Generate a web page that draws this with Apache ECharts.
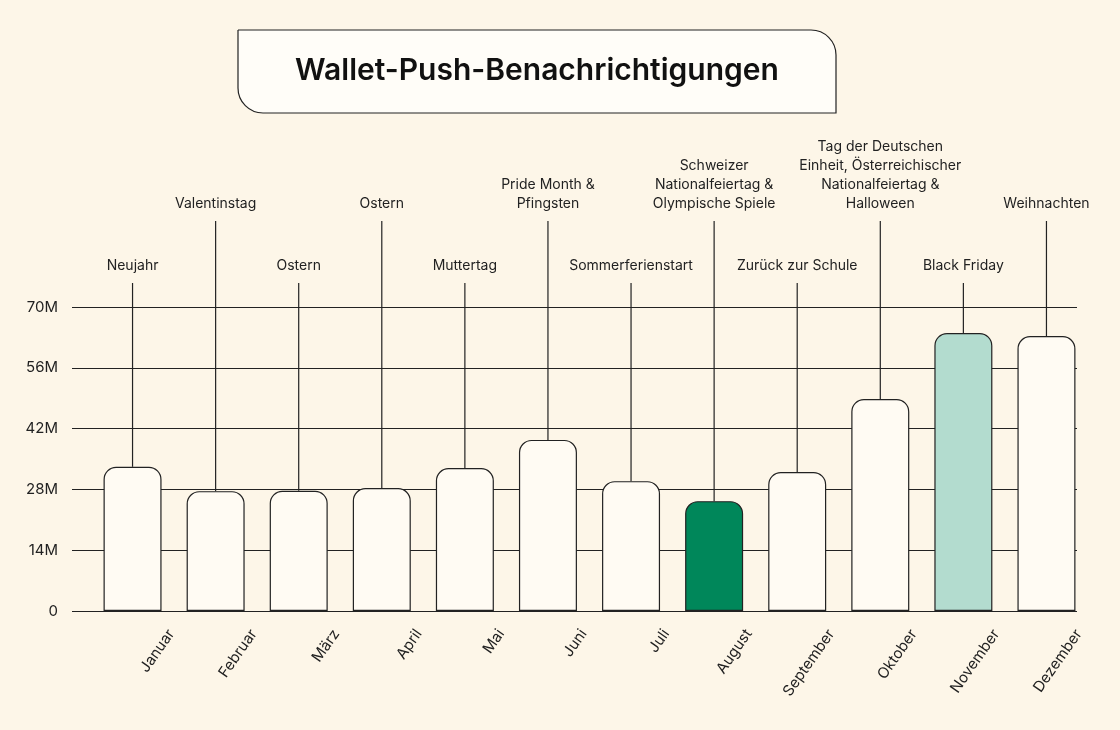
<!DOCTYPE html>
<html><head><meta charset="utf-8">
<script src="https://cdn.jsdelivr.net/npm/echarts@6/dist/echarts.min.js"></script>
<style>html,body{margin:0;background:#fdf6e8}#c{width:1120px;height:730px}</style>
</head><body><div id="c"></div>
<script>
const months=['Januar','Februar','März','April','Mai','Juni','Juli','August','September','Oktober','November','Dezember'];
const values=[33.2,27.6,27.7,28.3,32.9,39.4,29.9,25.3,32.0,48.8,64.0,63.3];
const events=['Neujahr','Valentinstag','Ostern','Ostern','Muttertag','Pride Month &\nPfingsten','Sommerferienstart','Schweizer\nNationalfeiertag &\nOlympische Spiele','Zurück zur Schule','Tag der Deutschen\nEinheit, Österreichischer\nNationalfeiertag &\nHalloween','Black Friday','Weihnachten'];
const yTicks=[0,14,28,42,56,70];
const colors=months.map((m,i)=>i===7?'#00875a':i===10?'#b3dccf':'#fffbf3');
const F='Inter, "Noto Sans", sans-serif';
const chart=echarts.init(document.getElementById('c'));
chart.setOption({
  backgroundColor:'#fdf6e8',
  animation:false,
  graphic:[{type:'rect',shape:{x:238,y:30,width:598,height:83,r:[0,25,0,25]},style:{fill:'#fffdf8',stroke:'#222',lineWidth:1.2}},
    {type:'text',x:537,y:71,style:{text:'Wallet-Push-Benachrichtigungen',font:'600 30px '+F,fill:'#111',align:'center',verticalAlign:'middle'}}],
  grid:[{left:72,right:43,top:307,bottom:119},{left:91,right:32,top:307,bottom:119},{left:130,right:-7,top:307,bottom:119}],
  xAxis:[{gridIndex:0,type:'category',data:months,show:false},
    {gridIndex:1,type:'category',data:months,axisLine:{show:false},axisTick:{show:false},axisLabel:{show:false}},
    {gridIndex:2,type:'category',data:months,axisLine:{show:false},axisTick:{show:false},axisLabel:{rotate:55,margin:20,fontSize:15,color:'#222',fontFamily:F}}],
  yAxis:[{gridIndex:0,min:0,max:70,interval:14,axisLine:{show:false},axisTick:{show:false},
      splitLine:{lineStyle:{color:'#222',width:1.2}},
      axisLabel:{margin:14,fontSize:15,color:'#222',fontFamily:F,formatter:v=>yTicks.includes(v)?(v===0?'0':v+'M'):''}},
    {gridIndex:1,min:0,max:70,show:false},{gridIndex:2,min:0,max:70,show:false}],
  series:[
    {type:'custom',xAxisIndex:1,yAxisIndex:1,data:values.map((v,i)=>[i,v]),z:1,
      renderItem:(p,api)=>{const i=api.value(0);const pt=api.coord([i,api.value(1)]);
        const low=i%2===0||i===6; const y0=low?283:221;
        return {type:'group',children:[
          {type:'line',shape:{x1:pt[0],y1:y0,x2:pt[0],y2:pt[1]},style:{stroke:'#222',lineWidth:1.2}},
          {type:'text',x:pt[0],y:y0-8,style:{text:events[i],font:'14px '+F,fill:'#222',align:'center',verticalAlign:'bottom',lineHeight:19}}]};}},
    {type:'bar',xAxisIndex:1,yAxisIndex:1,data:values.map((v,i)=>({value:v,itemStyle:{color:colors[i]}})),barWidth:58,z:3,
      itemStyle:{borderColor:'#222',borderWidth:1.2,borderRadius:[12,12,0,0]}}
  ]
});
</script></body></html>
